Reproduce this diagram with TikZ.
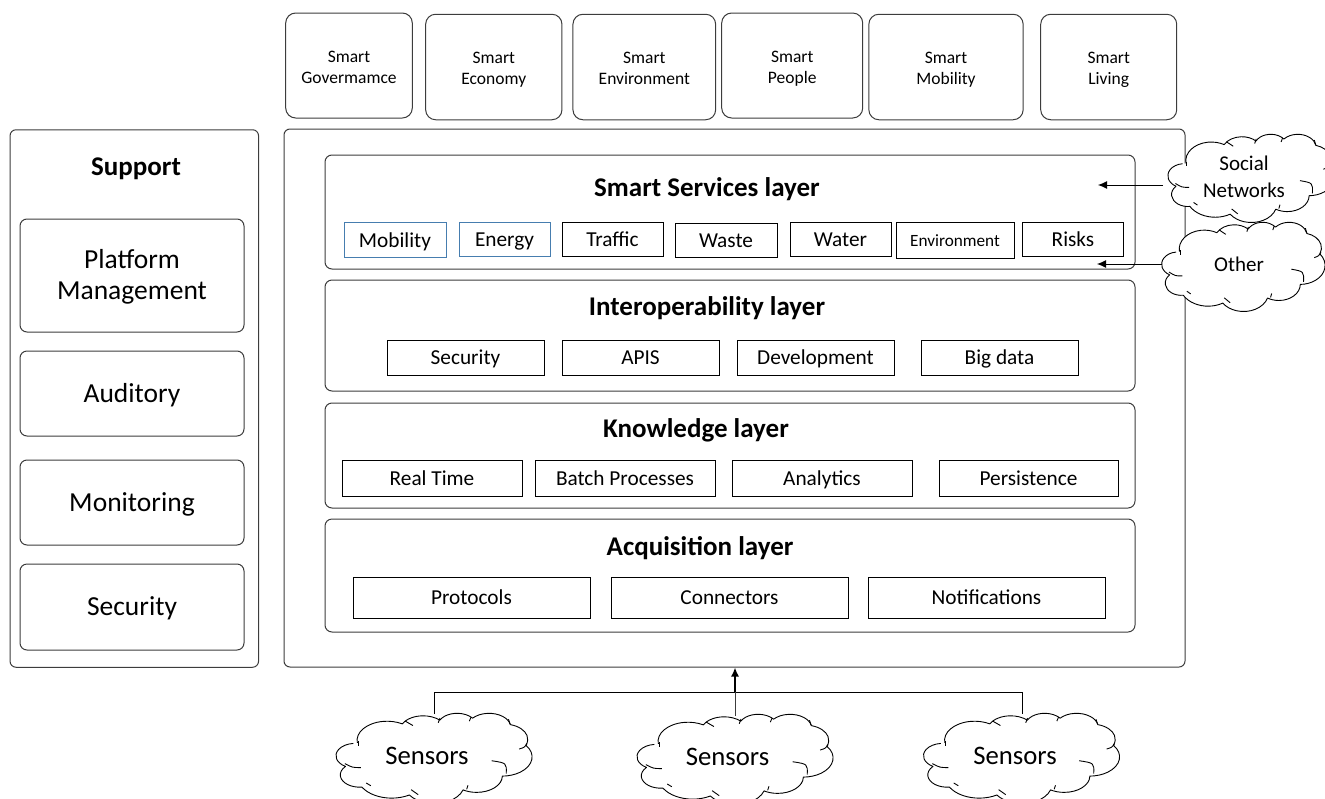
\documentclass[tikz,border=0pt]{standalone}
\usepackage{fontspec}
\setmainfont{Carlito}
\usetikzlibrary{positioning}
\usetikzlibrary{arrows.meta}
\definecolor{boxblue}{RGB}{70,125,175}
\definecolor{edgegray}{RGB}{60,60,60}
\tikzset{
  topbox/.style={draw=edgegray,line width=1pt,rounded corners=10pt,align=center,inner sep=0pt,font=\fontsize{17.5}{21}\selectfont},
  sidebox/.style={draw=edgegray,line width=1pt,rounded corners=7pt,align=center,inner sep=0pt,minimum width=224pt,font=\fontsize{27.5}{31}\selectfont},
  sideword/.style={sidebox,text height=23pt,text depth=6pt},
  layerbox/.style={draw=edgegray,line width=1pt,rounded corners=7pt,inner sep=0pt,minimum width=810pt},
  outerbox/.style={draw=edgegray,line width=1pt,rounded corners=6pt,inner sep=0pt},
  title/.style={font=\bfseries\fontsize{27}{32}\selectfont,inner sep=0pt},
  itembox/.style={draw=black,line width=1pt,inner sep=0pt,text height=18pt,text depth=4pt,font=\fontsize{21.3}{25}\selectfont},
  bluebox/.style={itembox,draw=boxblue},
  cloudtext/.style={inner sep=0pt,align=center,font=\fontsize{21}{27}\selectfont},
  sensortext/.style={inner sep=0pt,font=\fontsize{26.7}{31}\selectfont},
  puffline/.style={draw=black,line width=.9pt,line join=round},
  feed/.style={line width=1pt,-{Latex[length=9pt,width=8pt]}},
  declare function={puffang(\p,\q,\r)=atan2(\p*sin(\r),\q*cos(\r));}
}
\newcommand{\topwords}[2]{\rule{0pt}{18pt}#1\\#2\rule[-4pt]{0pt}{4pt}}
\newcommand{\puffarcs}{67.53/91.9/-190.487/123.781,53.33/72.67/-144.102/89.945,43.65/59.45/-145.808/99.723,48.57/65.95/-130.986/117.242,53.33/72.73/-78.709/109.027,67.75/92.2/-46.267/135.746,57.85/78.67/0.625/114.033,67.52/92.15/22.452/115.173,77.2/105.43/66.243/75.711,43.6/59.18/-274.942/146.736,43.45/59.45/-246.829/152.519}
% cloud outline: centre x, centre y, width, height
\newcommand{\puffcloud}[4]{
  \begin{scope}[shift={(#1-#3/2,#2-#4/2)},x=#3pt/432,y=-#4pt/432]
    \fill[white] (39,143.7)
      \foreach \wr/\hr/\st/\sw in \puffarcs
      { arc[x radius=\wr,y radius=\hr,start angle={puffang(\wr,\hr,\st)},delta angle={mod(puffang(\wr,\hr,\st+\sw)-puffang(\wr,\hr,\st)+720,360)}] } -- cycle;
    \draw[puffline] (39,143.7)
      \foreach \wr/\hr/\st/\sw in \puffarcs
      { arc[x radius=\wr,y radius=\hr,start angle={puffang(\wr,\hr,\st)},delta angle={mod(puffang(\wr,\hr,\st+\sw)-puffang(\wr,\hr,\st)+720,360)}] };
    \draw[puffline] (11,243) .. controls (28,262) .. (46.9,261.8);
    \draw[puffline] (59,336) .. controls (62,343) .. (69.3,349);
    \draw[puffline] (160,368) .. controls (166,380) .. (176,392);
    \draw[puffline] (288,347) .. controls (288,356) .. (285,366);
    \draw[puffline] (341,229) .. controls (375,240) .. (374,291);
    \draw[puffline] (403,173) .. controls (415,165) .. (421,147);
    \draw[puffline] (379,30) .. controls (380,42) .. (383,54);
    \draw[puffline] (295,19) .. controls (292,28) .. (291,39);
    \draw[puffline] (225,24) .. controls (222,36) .. (221,47);
    \draw[puffline] (146,38) .. controls (154,46) .. (164,60);
    \draw[puffline] (41,136) .. controls (40,146) .. (41,158);
  \end{scope}
}
\begin{document}
\begin{tikzpicture}[x=1pt,y=-1pt]
  \useasboundingbox (0,0) rectangle (1325,798);
  \clip (0,0) rectangle (1325,798);
  % services on top
  \node[topbox,minimum width=126.6pt,minimum height=105pt] (gov) at (349,65.5) {\topwords{Smart}{Govermamce}};
  \node[topbox,minimum width=136.3pt,minimum height=105.5pt] (eco) at (493.8,67) {\topwords{Smart}{Economy}};
  \node[topbox,minimum width=142.7pt,minimum height=105.5pt] (env) at (644.3,67) {\topwords{Smart}{Environment}};
  \node[topbox,minimum width=141pt,minimum height=105pt] (peo) at (792.2,65.5) {\topwords{Smart}{People}};
  \node[topbox,minimum width=154.3pt,minimum height=105.5pt] (mob) at (946,67) {\topwords{Smart}{Mobility}};
  \node[topbox,minimum width=136pt,minimum height=105.5pt] (liv) at (1108.7,67) {\topwords{Smart}{Living}};

  % left column
  \node[outerbox,minimum width=248.5pt,minimum height=537.5pt] (support) at (134.3,398.5) {};
  \node[title] (supporttitle) at (136,169) {Support};
  \node[sidebox,minimum height=113pt] (plat) at (132,275.5) {\rule{0pt}{24pt}Platform\\Management\rule[-8pt]{0pt}{8pt}};
  \node[sideword,minimum height=85pt] (aud) at (132,393.5) {Auditory};
  \node[sideword,minimum height=85pt] (mon) at (132,502.5) {Monitoring};
  \node[sideword,minimum height=86pt] (sec) at (132,607) {Security};

  % platform
  \node[outerbox,minimum width=901pt,minimum height=538pt] (main) at (734.5,398) {};

  \node[layerbox,minimum height=114pt] (services) at (730,212) {};
  \node[title] (servicestitle) at (707,189) {Smart Services layer};
  \node[bluebox,minimum width=102pt,minimum height=35pt] (s1) at (395,240) {Mobility};
  \node[bluebox,minimum width=91pt,minimum height=34pt] (s2) at (504.5,239) {Energy};
  \node[itembox,minimum width=101pt,minimum height=34pt] (s3) at (612.5,239) {Traffic};
  \node[itembox,minimum width=102pt,minimum height=34pt] (s4) at (726,240) {Waste};
  \node[itembox,minimum width=101pt,minimum height=34pt] (s5) at (840.5,239) {Water};
  \node[itembox,minimum width=118pt,minimum height=36pt,text height=15pt,text depth=3pt,font=\fontsize{17.2}{20}\selectfont] (s6) at (955,240) {Environment};
  \node[itembox,minimum width=101pt,minimum height=34pt] (s7) at (1073,239) {Risks};

  \node[layerbox,minimum height=111pt] (interop) at (730,335.5) {};
  \node[title] (interoptitle) at (707,308) {Interoperability layer};
  \node[itembox,minimum width=157pt,minimum height=35pt] (i1) at (465.5,357.5) {Security};
  \node[itembox,minimum width=157pt,minimum height=35pt] (i2) at (640.5,357.5) {APIS};
  \node[itembox,minimum width=157pt,minimum height=35pt] (i3) at (815.5,357.5) {Development};
  \node[itembox,minimum width=157pt,minimum height=35pt] (i4) at (999.5,357.5) {Big data};

  \node[layerbox,minimum height=105pt] (know) at (730,455.5) {};
  \node[title] (knowtitle) at (696,430) {Knowledge layer};
  \node[itembox,minimum width=180pt,minimum height=36pt] (k1) at (432,478) {Real Time};
  \node[itembox,minimum width=180pt,minimum height=36pt] (k2) at (625,478) {Batch Processes};
  \node[itembox,minimum width=180pt,minimum height=36pt] (k3) at (822,478) {Analytics};
  \node[itembox,minimum width=179pt,minimum height=36pt] (k4) at (1028.5,478) {Persistence};

  \node[layerbox,minimum height=113pt] (acq) at (730,575.5) {};
  \node[title] (acqtitle) at (700,548) {Acquisition layer};
  \node[itembox,minimum width=237pt,minimum height=41pt] (a1) at (471.5,597.5) {Protocols};
  \node[itembox,minimum width=237pt,minimum height=41pt] (a2) at (729.5,597.5) {Connectors};
  \node[itembox,minimum width=237pt,minimum height=41pt] (a3) at (986.5,597.5) {Notifications};

  % clouds
  \puffcloud{1252.8}{178}{163}{88}
  \puffcloud{1245}{266.5}{160}{89}
  \puffcloud{436}{758}{192}{90}
  \puffcloud{737}{759}{192}{90}
  \puffcloud{1023.5}{758}{192}{90}
  \node[cloudtext] (social) at (1244,177) {Social\\Networks};
  \node[cloudtext] (other) at (1239,264) {Other};
  \node[sensortext] (sens1) at (427,756) {Sensors};
  \node[sensortext] (sens2) at (727.5,757) {Sensors};
  \node[sensortext] (sens3) at (1015,756) {Sensors};

  \coordinate (socialout) at (1163,185);
  \coordinate (socialin) at (1098,185);
  \coordinate (otherout) at (1162,264);
  \coordinate (otherin) at (1097,264);
  \coordinate (sens1top) at (434,714);
  \coordinate (sens2top) at (735,716);
  \coordinate (sens3top) at (1022,714);
  \coordinate (bus) at (735,692);

  \draw[feed] (socialout) -- (socialin);
  \draw[feed] (otherout) -- (otherin);
  \draw[line width=1pt] (sens1top) -- (sens1top |- bus) -- (sens3top |- bus) -- (sens3top);
  \draw[line width=1pt,edgegray] (sens2top) -- (bus);
  \draw[feed,line width=1.6pt] (bus) -- (bus |- main.south);
\end{tikzpicture}
\end{document}
